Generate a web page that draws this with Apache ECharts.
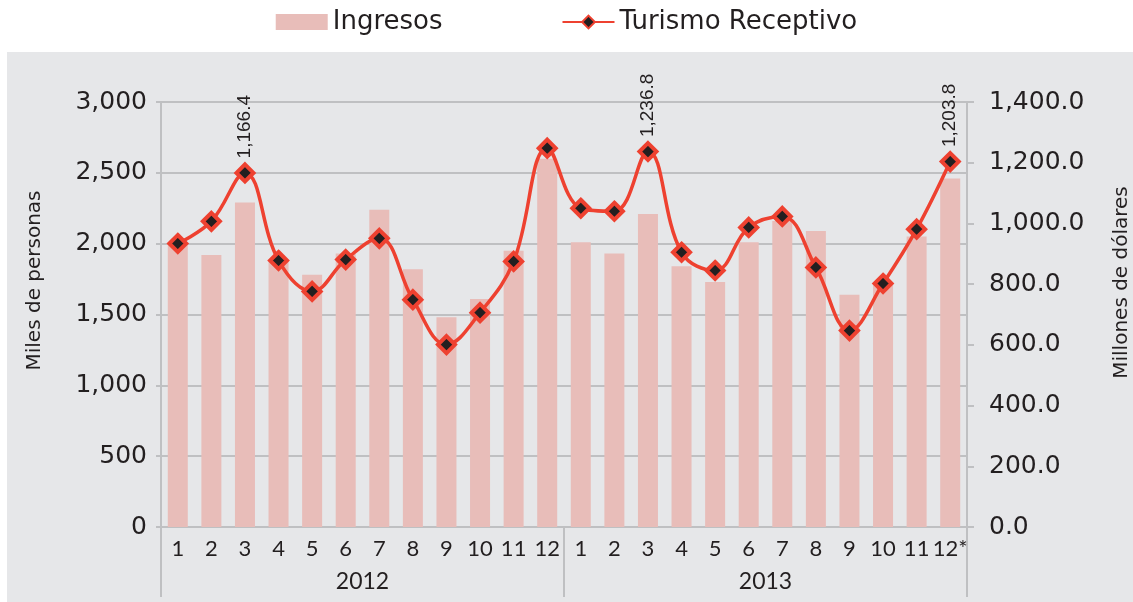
<!DOCTYPE html>
<html>
<head>
<meta charset="utf-8">
<script src="https://cdn.jsdelivr.net/npm/echarts@6/dist/echarts.min.js"></script>
<style>
  html, body { margin: 0; padding: 0; background: #fff; }
  #main { width: 1133px; height: 602px; }
</style>
</head>
<body>
<div id="main"></div>
<script>
// datos
var months = ['1','2','3','4','5','6','7','8','9','10','11','12','1','2','3','4','5','6','7','8','9','10','11','12*'];
var years = ['2012', '2013'];
// Ingresos (barras, eje izquierdo)
var ingresos = [1990, 1920, 2290, 1880, 1780, 1930, 2240, 1820, 1480, 1610, 1950, 2600,
                2010, 1930, 2210, 1840, 1730, 2010, 2160, 2090, 1640, 1720, 2050, 2460];
// Turismo Receptivo (linea, eje derecho)
var turismo = [934, 1007, 1166.4, 878, 776, 881, 951, 749, 601, 706, 875, 1248,
               1050, 1040, 1236.8, 905, 845, 987, 1023, 855, 647, 802, 981, 1203.8];
var labelIdx = [2, 14, 23];
var leftTicks = [0, 3000, 500];
var rightTicks = [0, 1400, 200];

var font = 'DejaVu Sans';
var font2 = 'Lato';
var ink = '#231F20';
var grid = '#BFC0C2';
var red = '#EE4130';

function fmt(v, d) {
  return Number(v).toLocaleString('en-US', { minimumFractionDigits: d, maximumFractionDigits: d });
}

var lineData = turismo.map(function (v, i) {
  if (labelIdx.indexOf(i) < 0) return v;
  return {
    value: v,
    label: {
      show: true, rotate: 90, position: 'top', distance: 4,
      align: 'left', verticalAlign: 'middle',
      fontFamily: 'Liberation Sans', fontSize: 19, color: ink,
      formatter: function (p) { return fmt(p.value, 1); }
    }
  };
});

var myChart = echarts.init(document.getElementById('main'));
myChart.setOption({
  animation: false,
  textStyle: { fontFamily: font },
  graphic: [{
    type: 'rect', z: -10, silent: true,
    shape: { x: 7, y: 52, width: 1126, height: 550 },
    style: { fill: '#E6E7E9' }
  }],
  legend: {
    top: 4, left: 'center', itemGap: 119, itemWidth: 52, itemHeight: 16,
    textStyle: { fontSize: 26, color: ink, fontFamily: font },
    data: [{ name: 'Ingresos', icon: 'rect' }, { name: 'Turismo Receptivo' }]
  },
  grid: { left: 161, right: 166, top: 102, bottom: 75, outerBoundsMode: 'none' },
  xAxis: [{
    type: 'category', data: months, position: 'bottom',
    axisLine: { lineStyle: { color: grid, width: 2 } },
    axisTick: { show: false },
    axisLabel: { fontSize: 22, color: ink, margin: 11, interval: 0, fontFamily: font2 }
  }, {
    type: 'category', data: years, position: 'bottom',
    axisLine: { show: false },
    axisTick: { show: true, length: 70, lineStyle: { color: grid, width: 2 } },
    axisLabel: { fontSize: 23, color: ink, margin: 43, fontFamily: font2 }
  }],
  yAxis: [{
    type: 'value', min: leftTicks[0], max: leftTicks[1], interval: leftTicks[2],
    name: 'Miles de personas', nameLocation: 'middle', nameGap: 116,
    nameTextStyle: { fontSize: 20, color: ink, padding: [0, 0, 0, 68] },
    axisLine: { show: true, lineStyle: { color: grid, width: 2 } },
    axisTick: { show: true, length: 5, lineStyle: { color: grid, width: 2 } },
    splitLine: { lineStyle: { color: grid, width: 2 } },
    axisLabel: { fontSize: 25, color: ink, margin: 14, formatter: function (v) { return fmt(v, 0); } }
  }, {
    type: 'value', min: rightTicks[0], max: rightTicks[1], interval: rightTicks[2],
    name: 'Millones de dólares', nameLocation: 'middle', nameGap: 145,
    nameTextStyle: { fontSize: 20, color: ink, padding: [0, 0, 0, 64] },
    axisLine: { show: true, lineStyle: { color: grid, width: 2 } },
    axisTick: { show: true, length: 7, lineStyle: { color: grid, width: 2 } },
    splitLine: { show: false },
    axisLabel: { fontSize: 25, color: ink, margin: 22, formatter: function (v) { return fmt(v, 1); } }
  }],
  series: [{
    name: 'Ingresos', type: 'bar', yAxisIndex: 0, xAxisIndex: 0,
    data: ingresos, barWidth: 20,
    itemStyle: { color: '#E8BDB9' }
  }, {
    name: 'Turismo Receptivo', type: 'line', yAxisIndex: 1, xAxisIndex: 0,
    data: lineData, smooth: 0.4,
    symbol: 'diamond', symbolSize: 17,
    lineStyle: { color: red, width: 3.5 },
    itemStyle: { color: ink, borderColor: red, borderWidth: 4 }
  }]
});
</script>
</body>
</html>
